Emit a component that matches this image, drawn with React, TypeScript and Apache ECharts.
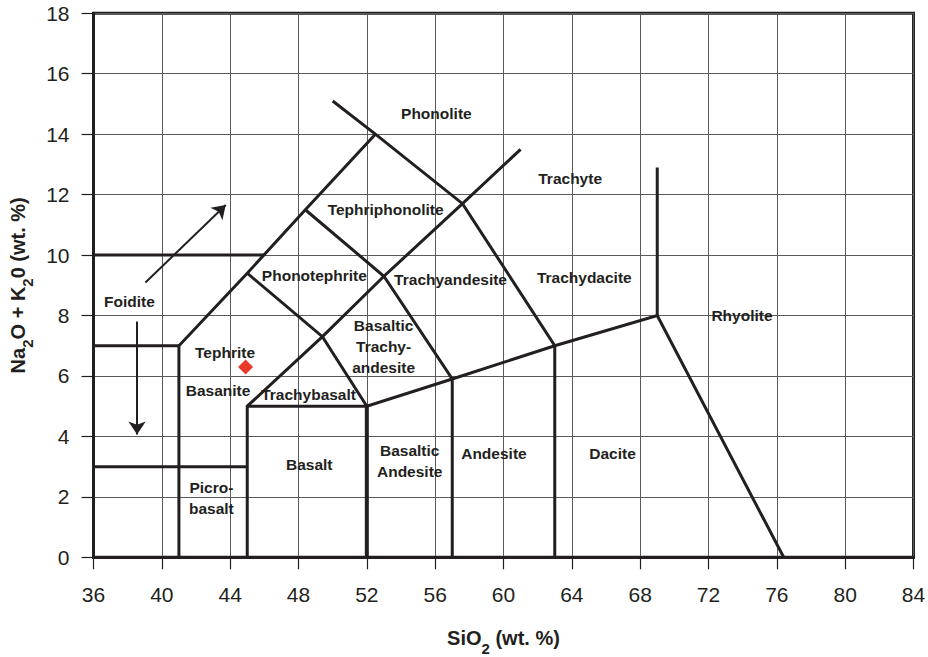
import React, { useEffect, useRef } from "react";
import * as echarts from "echarts";

// Axis ranges
const xMin = 36;
const xMax = 84;
const xStep = 4;
const yMin = 0;
const yMax = 18;
const yStep = 2;

// TAS field boundaries (SiO2, Na2O+K2O)
const foiditeTephriteLine = [[41, 0], [41, 7], [45, 9.4], [48.4, 11.5], [52.5, 14]];
const foiditeLowerLine = [[36, 7], [41, 7]];
const foiditeUpperLine = [[36, 10], [46, 10]];
const picrobasaltTopLine = [[36, 3], [45, 3]];
const phonoliteLine = [[50, 15.1], [52.5, 14], [57.6, 11.7], [63, 7], [63, 0]];
const trachyLine = [[45, 0], [45, 5], [49.4, 7.3], [53, 9.3], [57.6, 11.7], [61, 13.5]];
const subalkalineLine = [[45, 5], [52, 5], [57, 5.9], [63, 7], [69, 8], [76.4, 0]];
const basaltRightLine = [[52, 0], [52, 5]];
const trachybasaltLine = [[52, 5], [49.4, 7.3], [45, 9.4]];
const andesiteLine = [[57, 0], [57, 5.9], [53, 9.3], [48.4, 11.5]];
const rhyoliteLine = [[69, 8], [69, 12.9]];

// Arrows
const arrowUp = [[39.04, 9.09], [43.74, 11.66]];
const arrowDown = [[38.55, 7.8], [38.55, 4.06]];

// Sample point
const sampleX = [44.9];
const sampleY = [6.3];

// Field labels
const fieldNames = [
  "Phonolite",
  "Trachyte",
  "Tephriphonolite",
  "Phonotephrite",
  "Trachyandesite",
  "Trachydacite",
  "Rhyolite",
  "Foidite",
  "Basaltic\nTrachy-\nandesite",
  "Tephrite",
  "Basanite",
  "Trachybasalt",
  "Basalt",
  "Basaltic\nAndesite",
  "Andesite",
  "Dacite",
  "Picro-\nbasalt",
];
const fieldX = [56.07, 63.9, 53.1, 48.93, 56.9, 64.73, 73.96, 38.1, 52.98, 43.7, 43.29, 48.59, 48.63, 54.51, 59.44, 66.38, 42.9];
const fieldY = [14.7, 12.55, 11.52, 9.32, 9.18, 9.25, 7.99, 8.46, 6.98, 6.76, 5.53, 5.38, 3.07, 3.18, 3.45, 3.45, 1.96];

const FONT = "'Liberation Sans', Arial, Helvetica, sans-serif";
const INK = "#231f20";

export default function App() {
  const ref = useRef<HTMLDivElement>(null);

  useEffect(() => {
    document.body.style.margin = "0";
    if (!ref.current) return;
    const chart = echarts.init(ref.current, undefined, { renderer: "svg" });

    const boundary = (data: number[][], width = 3, extra: any = {}) => ({
      type: "line",
      data,
      symbol: "none",
      silent: true,
      z: 3,
      lineStyle: { color: INK, width, cap: "butt", join: "miter", opacity: 1 },
      ...extra,
    });

    const subRich = {
      s: {
        fontSize: 15,
        fontWeight: "bold",
        fontFamily: FONT,
        color: INK,
        lineHeight: 18,
        padding: [10, 0, -10, 0],
      },
    };

    const option: any = {
      animation: false,
      grid: {
        left: 93.5,
        right: 14.5,
        top: 13.3,
        bottom: 99.7,
        outerBoundsMode: "none",
        containLabel: false,
        show: true,
        borderColor: INK,
        borderWidth: 3,
        backgroundColor: "transparent",
      },
      xAxis: {
        type: "value",
        min: xMin,
        max: xMax,
        interval: xStep,
        name: "SiO{s|2} (wt. %)",
        nameLocation: "middle",
        nameGap: 71,
        nameTextStyle: {
          fontSize: 20,
          fontWeight: "bold",
          fontFamily: FONT,
          color: INK,
          rich: subRich,
        },
        axisLine: { show: true, onZero: false, lineStyle: { color: INK, width: 3 } },
        axisTick: { show: true, length: 12, lineStyle: { color: INK, width: 1.2 } },
        axisLabel: { fontSize: 21, fontFamily: FONT, color: INK, margin: 27 },
        splitLine: { show: true, lineStyle: { color: "#5a5a5a", width: 1 } },
      },
      yAxis: {
        type: "value",
        min: yMin,
        max: yMax,
        interval: yStep,
        name: "Na{s|2}O + K{s|2}0 (wt. %)",
        nameLocation: "middle",
        nameGap: 59,
        nameTextStyle: {
          fontSize: 20,
          fontWeight: "bold",
          fontFamily: FONT,
          color: INK,
          rich: subRich,
        },
        axisLine: { show: true, onZero: false, lineStyle: { color: INK, width: 3 } },
        axisTick: { show: true, length: 12, lineStyle: { color: INK, width: 1.2 } },
        axisLabel: { fontSize: 21, fontFamily: FONT, color: INK, margin: 24 },
        splitLine: { show: true, lineStyle: { color: "#5a5a5a", width: 1 } },
      },
      series: [
        boundary(foiditeTephriteLine),
        boundary(foiditeLowerLine),
        boundary(foiditeUpperLine),
        boundary(picrobasaltTopLine),
        boundary(phonoliteLine),
        boundary(trachyLine),
        boundary(subalkalineLine),
        boundary(basaltRightLine, 4),
        boundary(trachybasaltLine),
        boundary(andesiteLine),
        boundary(rhyoliteLine),
        {
          type: "line",
          data: [],
          symbol: "none",
          silent: true,
          markLine: {
            silent: true,
            symbol: ["none", "arrow"],
            symbolSize: 13,
            label: { show: false },
            lineStyle: { color: INK, width: 2, type: "solid", opacity: 1 },
            itemStyle: { color: INK, opacity: 1 },
            emphasis: { disabled: true },
            data: [
              [{ coord: arrowUp[0] }, { coord: arrowUp[1] }],
              [{ coord: arrowDown[0] }, { coord: arrowDown[1] }],
            ],
          },
        },
        {
          type: "scatter",
          silent: true,
          z: 4,
          symbolSize: 1,
          itemStyle: { color: "rgba(0,0,0,0)", opacity: 1 },
          data: fieldNames.map((n, i) => ({ name: n, value: [fieldX[i], fieldY[i]] })),
          label: {
            show: true,
            position: "inside",
            formatter: "{b}",
            fontSize: 15.5,
            fontWeight: "bold",
            fontFamily: FONT,
            color: INK,
            opacity: 1,
            lineHeight: 21,
            align: "center",
          },
        },
        {
          type: "scatter",
          silent: true,
          z: 5,
          symbol: "diamond",
          symbolSize: [15, 15],
          itemStyle: { color: "#e8392b", opacity: 1 },
          data: sampleX.map((x, i) => [x, sampleY[i]]),
        },
      ],
    };

    chart.setOption(option);
    return () => chart.dispose();
  }, []);

  return <div ref={ref} style={{ width: 928, height: 657 }} />;
}
